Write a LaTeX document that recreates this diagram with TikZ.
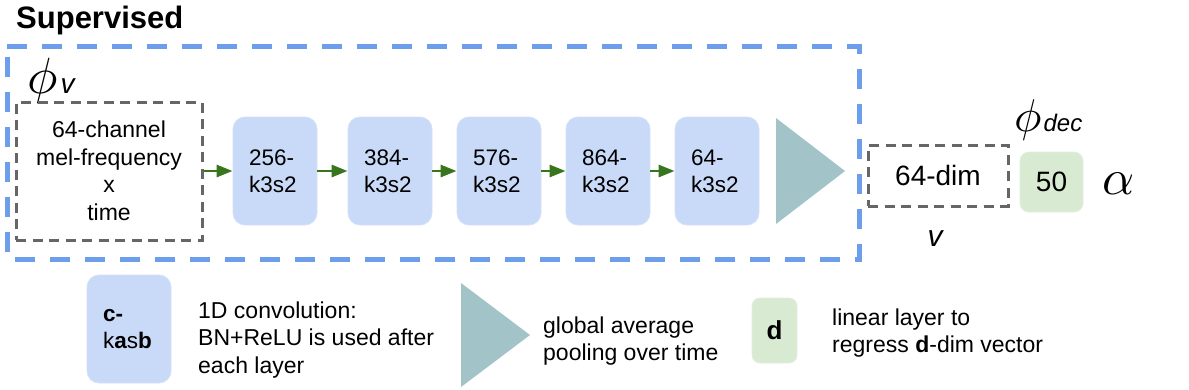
\documentclass[tikz,border=0pt]{standalone}
\usepackage{graphicx}
\usepackage{fontspec}
\setmainfont{Liberation Sans}
\usetikzlibrary{arrows.meta}
\definecolor{convblue}{HTML}{C9DAF8}
\definecolor{linblue}{HTML}{6D9EEB}
\definecolor{arrgreen}{HTML}{38761D}
\definecolor{poolcol}{HTML}{A2C4C9}
\definecolor{lingreen}{HTML}{D9EAD3}
\definecolor{dashgray}{HTML}{666666}
\newcommand{\bodyfont}{\fontsize{23}{27.5}\selectfont}
\newcommand{\convfont}{\fontsize{22.5}{27}\selectfont}
\tikzset{
  convbox/.style={fill=convblue, draw=convblue!80!white, line width=0.8pt, rounded corners=12pt,
    minimum width=84pt, minimum height=108pt, inner sep=0pt, text width=52pt, align=left, font=\convfont},
  grayframe/.style={draw=dashgray, line width=3pt, dash pattern=on 10pt off 6.5pt, inner sep=0pt},
  linbox/.style={fill=lingreen, draw=lingreen!80!white, line width=0.8pt, rounded corners=9pt, inner sep=0pt},
  arr/.style={draw=arrgreen, line width=2.8pt, -{Triangle[length=16pt,width=12pt]}, shorten >=0pt},
  legtext/.style={inner sep=0pt, align=left, anchor=west, font=\bodyfont},
  pool/.style={fill=poolcol}
}
\begin{document}
\begin{tikzpicture}[x=1pt,y=-1pt]
\useasboundingbox (0,0) rectangle (1189,389);
% title
\node[anchor=base west, inner sep=0pt, font=\fontsize{31}{31}\selectfont\bfseries] (title) at (16,28) {Supervised};
% blue dashed frame
\draw[linblue, line width=5pt, dash pattern=on 20pt off 15pt] (7,46) -- (859,46) -- (859,259.5) -- (7,259.5) -- cycle;
% phi_v
\node[anchor=base west, inner sep=0pt] (phiv) at (27,93) {\scalebox{5.1}{$\phi$}\kern3pt\fontsize{28}{28}\selectfont\textit{v}};
% input box
\node[grayframe, minimum width=186pt, minimum height=138pt, align=center, font=\bodyfont] (in) at (109,171)
  {64-channel\\mel-frequency\\x\\time};
% conv boxes
\node[convbox] (c1) at (275,171) {256-\\k3s2};
\node[convbox] (c2) at (390,171) {384-\\k3s2};
\node[convbox] (c3) at (499,171) {576-\\k3s2};
\node[convbox] (c4) at (608,171) {864-\\k3s2};
\node[convbox] (c5) at (717,171) {64-\\k3s2};
\draw[arr] (in) -- (c1);
\draw[arr] (c1) -- (c2);
\draw[arr] (c2) -- (c3);
\draw[arr] (c3) -- (c4);
\draw[arr] (c4) -- (c5);
% pooling triangle
\fill[pool] (776,118) -- (845,171) -- (776,224) -- cycle;
% 64-dim vector
\node[grayframe, minimum width=140pt, minimum height=61pt, font=\fontsize{28}{28}\selectfont] (vec) at (938,175.5) {64-dim};
\node[anchor=base, inner sep=0pt, font=\fontsize{30}{30}\selectfont\itshape] (vlab) at (935,246) {v};
% linear layer
\node[linbox, minimum width=63pt, minimum height=60pt, font=\fontsize{28}{28}\selectfont] (lin) at (1051.5,182) {50};
\node[anchor=base west, inner sep=0pt] (phidec) at (1014,131) {\scalebox{4.6}{$\phi$}\kern2pt\fontsize{24}{24}\selectfont\textit{dec}};
\node[anchor=base west, inner sep=0pt] (alpha) at (1102,194) {\scalebox{5}{$\alpha$}};
% legend
\node[convbox] (lc) at (129,329) {\textbf{c-}\\k\textbf{a}s\textbf{b}};
\node[legtext] (lct) at (198,340) {1D convolution:\\BN+ReLU is used after\\each layer};
\fill[pool] (461,283) -- (530,335) -- (461,387) -- cycle;
\node[legtext] (lpt) at (543,341) {global average\\pooling over time};
\node[linbox, minimum width=45pt, minimum height=65pt, rounded corners=8pt, font=\fontsize{26}{26}\selectfont\bfseries] (ld) at (774.5,330.5) {d};
\node[legtext] (ldt) at (832,333) {linear layer to\\regress \textbf{d}-dim vector};
\end{tikzpicture}
\end{document}
